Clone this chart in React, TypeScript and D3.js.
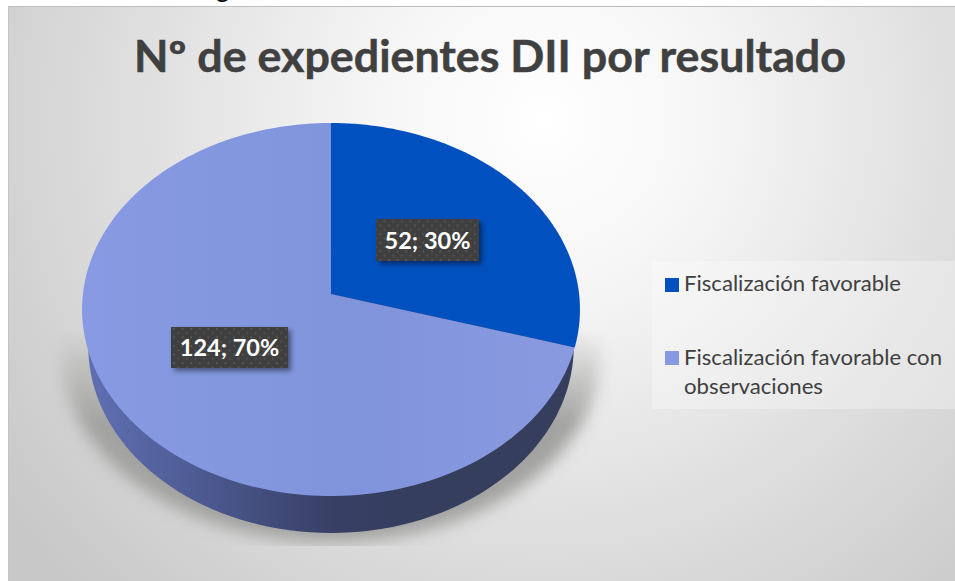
import React from "react";
import * as d3 from "d3";

const categories = ["Fiscalización favorable", "Fiscalización favorable con observaciones"];
const values = [52, 124];
const percents = ["30%", "70%"];
const colours = ["#0051bf", "#8699e1"];
const titleText = "Nº de expedientes DII por resultado";

const W = 955, H = 581;
const cx = 331, cy = 294, R = 248.1, B = 185.2, K = 0.0831, DEPTH = 37;

// perspective projection of a point on the flat pie
const project = (a: number) => {
  const u = Math.sin(a), v = -Math.cos(a);
  const d = 1 - K * v;
  return [cx + (R * u) / d, cy + (B * v) / d] as const;
};
const rim = (a0: number, a1: number, dy = 0, sx = 1) => {
  const n = 160;
  return d3.range(n + 1).map((i) => {
    const p = project(a0 + ((a1 - a0) * i) / n);
    return [cx + (p[0] - cx) * sx, p[1] + dy] as [number, number];
  });
};
const line = d3.line();

export default function App() {
  const arcs = d3.pie<number>().sort(null)(values);
  const labelBoxes = [
    { x: 376, y: 219, w: 103, h: 42 },
    { x: 171, y: 327, w: 117, h: 41 },
  ];
  const font = "Lato, 'Open Sans', sans-serif";
  return (
    <svg width={W} height={H} style={{ position: "absolute", left: 0, top: 0, background: "#fff" }}>
      <defs>
        <radialGradient id="bg" gradientUnits="userSpaceOnUse" cx={545} cy={120} r={660}>
          <stop offset="0" stopColor="#ffffff" />
          <stop offset="0.25" stopColor="#f6f6f6" />
          <stop offset="0.6" stopColor="#e0e0e0" />
          <stop offset="1" stopColor="#c8c8c8" />
        </radialGradient>
        <linearGradient id="wall" gradientUnits="userSpaceOnUse" x1={82} x2={420} y1={0} y2={0}>
          <stop offset="0" stopColor="#6071b4" />
          <stop offset="0.35" stopColor="#4d5a92" />
          <stop offset="0.75" stopColor="#373f64" />
          <stop offset="1" stopColor="#363e5e" />
        </linearGradient>
        <linearGradient id="lightFace" gradientUnits="userSpaceOnUse" x1={82} x2={580} y1={0} y2={0}>
          <stop offset="0" stopColor="#879ae3" />
          <stop offset="0.55" stopColor="#8094db" />
          <stop offset="1" stopColor="#8a9ae0" />
        </linearGradient>
        <linearGradient id="fade" gradientUnits="userSpaceOnUse" x1={0} x2={0} y1={330} y2={425}>
          <stop offset="0" stopColor="#000" />
          <stop offset="1" stopColor="#fff" />
        </linearGradient>
        <mask id="shadowMask" maskUnits="userSpaceOnUse" x={0} y={0} width={W} height={H}>
          <rect x={0} y={0} width={W} height={546} fill="url(#fade)" />
        </mask>
        <filter id="blur" x="-20%" y="-20%" width="140%" height="140%">
          <feGaussianBlur stdDeviation={8} />
        </filter>
        <filter id="lblShadow" x="-20%" y="-30%" width="150%" height="170%">
          <feGaussianBlur stdDeviation={2.5} />
        </filter>
        <pattern id="dots" patternUnits="userSpaceOnUse" width={8.6} height={8.6}>
          <rect width={8.6} height={8.6} fill="#3f3f3f" />
          <circle cx={2} cy={2} r={1} fill="#5c5c5c" />
          <circle cx={6.3} cy={6.3} r={1} fill="#555555" />
        </pattern>
      </defs>

      <text x={216} y={-3} fontFamily={font} fontSize={26} fill="#000">g</text>

      <rect x={8} y={6} width={947} height={575} fill="url(#bg)" />
      <line x1={8} x2={955} y1={6.5} y2={6.5} stroke="#bdbdbd" />
      <line x1={8.5} x2={8.5} y1={6} y2={581} stroke="#c4c4c4" />

      <text x={490} y={72} textAnchor="middle" fontFamily={font} fontWeight={700}
        fontSize={43} fill="#404040" stroke="#404040" strokeWidth={0.5}
        textLength={712} lengthAdjust="spacingAndGlyphs">{titleText}</text>

      <g mask="url(#shadowMask)">
        <path d={line(rim(0, Math.PI * 2, 46, 1.08))! + "Z"} fill="#a2a2a0" filter="url(#blur)" />
      </g>

      <path d={line(rim(0, Math.PI * 2, DEPTH, 0.975))! + "Z"} fill="url(#wall)" />

      {arcs.map((a, i) => (
        <path key={i}
          d={`M${cx},${cy}L` + line(rim(a.startAngle, a.endAngle))!.slice(1) + "Z"}
          fill={i === 0 ? colours[0] : "url(#lightFace)"} />
      ))}

      {labelBoxes.map((b, i) => (
        <g key={i}>
          <rect x={b.x + 3} y={b.y + 3} width={b.w} height={b.h} fill="#000" opacity={0.45} filter="url(#lblShadow)" />
          <rect x={b.x} y={b.y} width={b.w} height={b.h} fill="url(#dots)" />
          <text x={b.x + b.w / 2} y={b.y + b.h / 2 + 8.5} textAnchor="middle"
            fontFamily={font} fontWeight={700} fontSize={23.5} fill="#fff">
            {`${values[i]}; ${percents[i]}`}
          </text>
        </g>
      ))}

      <rect x={652} y={261} width={303} height={148} fill="#fff" opacity={0.3} />
      <rect x={665} y={278} width={14} height={14} fill={colours[0]} />
      <rect x={665} y={351} width={14} height={14} fill={colours[1]} />
      <g fontFamily={font} fontSize={21} fill="#404040">
        <text x={684} y={291} textLength={217} lengthAdjust="spacingAndGlyphs">{categories[0]}</text>
        <text x={684} y={365} textLength={258} lengthAdjust="spacingAndGlyphs">Fiscalización favorable con</text>
        <text x={684} y={394} textLength={139} lengthAdjust="spacingAndGlyphs">observaciones</text>
      </g>
    </svg>
  );
}
